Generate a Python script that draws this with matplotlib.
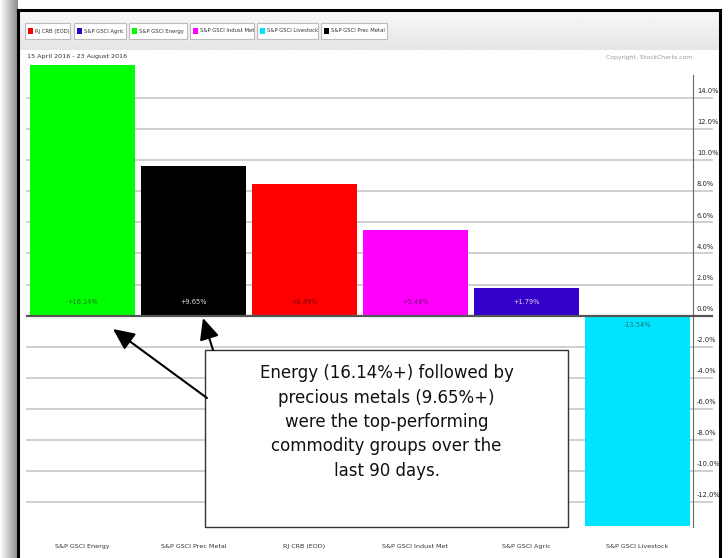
import matplotlib
matplotlib.use("Agg")
import matplotlib.pyplot as plt
import numpy as np
from matplotlib.patches import Rectangle, FancyArrowPatch

categories = ["S&P GSCI Energy", "S&P GSCI Prec Metal", "RJ CRB (EOD)",
              "S&P GSCI Indust Met", "S&P GSCI Agric", "S&P GSCI Livestock"]
values = [16.14, 9.65, 8.49, 5.48, 1.79, -13.54]
value_labels = ["+16.14%", "+9.65%", "+8.49%", "+5.48%", "+1.79%", "-13.54%"]
bar_colors = ["#00ff00", "#000000", "#ff0000", "#ff00ff", "#3300cc", "#00e5ff"]
label_colors = ["#1f7a1f", "#dddddd", "#7a0000", "#7a007a", "#dddddd", "#1f6f7a"]
yticks = [-12, -10, -8, -6, -4, -2, 0, 2, 4, 6, 8, 10, 12, 14]
legend_names = ["RJ CRB (EOD)", "S&P GSCI Agric", "S&P GSCI Energy",
                "S&P GSCI Indust Met", "S&P GSCI Livestock", "S&P GSCI Prec Metal"]
legend_colors = ["#ff0000", "#3300cc", "#00ff00", "#ff00ff", "#00e5ff", "#000000"]
date_text = "15 April 2016 - 23 August 2016"
copyright_text = "Copyright, StockCharts.com"
note = ("Energy (16.14%+) followed by\nprecious metals (9.65%+)\nwere the top-performing\n"
        "commodity groups over the\nlast 90 days.")

W, H = 728, 558
fig = plt.figure(figsize=(W / 100, H / 100), dpi=100)
fig.patch.set_facecolor("white")
NARROW = dict(family="DejaVu Sans")

def fx(px):
    return px / W

def fy(py):
    return 1 - py / H

# left shadow
sh = fig.add_axes([0, 0, fx(18), 1])
sh.imshow(np.linspace(1, 0.55, 50).reshape(1, -1), cmap="gray", vmin=0, vmax=1,
          aspect="auto", extent=[0, 1, 0, 1])
sh.axis("off")

# header gradient
hd = fig.add_axes([fx(19), fy(50), fx(720 - 19), fy(12) - fy(50)])
hd.imshow(np.linspace(0.97, 0.90, 50).reshape(-1, 1), cmap="gray", vmin=0, vmax=1,
          aspect="auto", extent=[0, 1, 0, 1])
hd.axis("off")

# frame
for xs, ys in [([18, 18], [558, 10]), ([720, 720], [558, 10]), ([18, 720], [10, 10])]:
    fig.add_artist(plt.Line2D([fx(v) for v in xs], [fy(v) for v in ys], color="black",
                              lw=2.2, transform=fig.transFigure))

# legend buttons
btn_x = [(25, 70), (74, 126), (129, 187), (190, 254), (257, 318), (321, 387)]
for (x0, x1), name, col in zip(btn_x, legend_names, legend_colors):
    fig.add_artist(Rectangle((fx(x0), fy(39)), fx(x1 - x0), fy(23) - fy(39),
                             transform=fig.transFigure, facecolor="white",
                             edgecolor="#bbbbbb", lw=0.8))
    fig.add_artist(Rectangle((fx(x0 + 3), fy(34)), fx(5), fy(28) - fy(34),
                             transform=fig.transFigure, facecolor=col, edgecolor="none"))
    fig.text(fx(x0 + 10), fy(31), name, fontsize=3.8, **NARROW, color="#333333",
             va="center", ha="left")

fig.text(fx(27), fy(56), date_text, fontsize=4.6, **NARROW, color="#333333",
         va="center", ha="left")
fig.text(fx(692), fy(57), copyright_text, fontsize=4.4, **NARROW, color="#999999",
         va="center", ha="right")

# main axes
ax = fig.add_axes([fx(27), fy(527), fx(693 - 27), fy(60) - fy(527)])
ax.set_facecolor("none")
x = np.arange(len(categories))
ax.set_xlim(-0.5, len(categories) - 0.5)
ax.set_ylim(-13.6, 16.45)

for t in yticks:
    if t != 0:
        ax.plot([0, 1.028], [t, t], transform=ax.get_yaxis_transform(), color="#cccccc",
                lw=1.3, clip_on=False, zorder=1)
    ax.text(1.006, t + 0.25, f"{t:.1f}%", transform=ax.get_yaxis_transform(),
            fontsize=4.9, **NARROW, color="#222222", ha="left", va="bottom")

ax.bar(x, values, width=0.95, color=bar_colors, zorder=2)
ax.plot([0, 1.028], [0, 0], transform=ax.get_yaxis_transform(), color="#555555",
        lw=1.6, clip_on=False, zorder=3)

for xi, v, lab, lc in zip(x, values, value_labels, label_colors):
    yy = 0.85 if v > 0 else -0.6
    ax.text(xi, yy, lab, fontsize=4.8, **NARROW, color=lc, ha="center", va="center",
            zorder=4)

for s in ["top", "left", "bottom"]:
    ax.spines[s].set_visible(False)
ax.spines["right"].set_color("#666666")
ax.spines["right"].set_linewidth(0.8)
ax.spines["right"].set_bounds(-13.6, 15.5)
ax.set_yticks([])
ax.set_xticks(x)
ax.set_xticklabels(categories, fontsize=4.6, **NARROW, color="#333333")
ax.tick_params(axis="x", length=0, pad=12)

# annotation box
fig.add_artist(Rectangle((fx(205), fy(527)), fx(568 - 205), fy(350) - fy(527),
                         transform=fig.transFigure, facecolor="white",
                         edgecolor="#333333", lw=1.0, zorder=10))
fig.text(fx(386.5), fy(422), note, fontsize=12, family="DejaVu Sans", color="#111111",
         ha="center", va="center", linespacing=1.45, zorder=11)

arrow_kw = dict(arrowstyle="-|>,head_length=0.65,head_width=0.3", color="black", lw=1.5,
                mutation_scale=20, shrinkA=0, shrinkB=0, zorder=12,
                transform=fig.transFigure)
fig.add_artist(FancyArrowPatch((fx(207), fy(398)), (fx(113), fy(329)), **arrow_kw))
fig.add_artist(FancyArrowPatch((fx(213), fy(350)), (fx(203), fy(318)), **arrow_kw))

fig.savefig("out.png", dpi=100)
